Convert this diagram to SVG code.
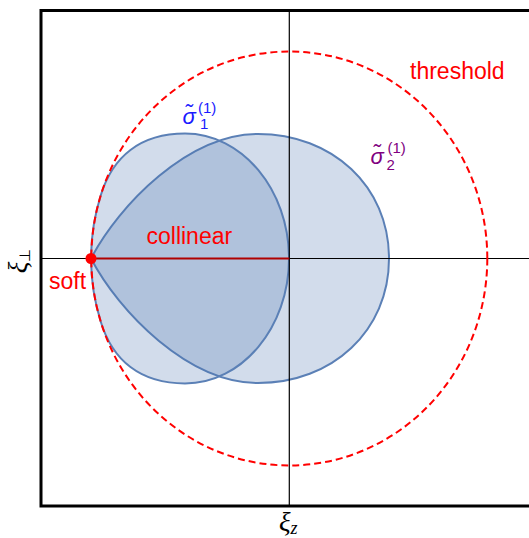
<svg xmlns="http://www.w3.org/2000/svg" width="529" height="538" viewBox="0 0 529 538">
<style>
.region{fill:#4a73b0;fill-opacity:0.25;stroke:#5b80b6;stroke-width:2}
.axis{stroke:#000;stroke-width:1.2;fill:none}
.lbl{font-family:"Liberation Sans",Arial,sans-serif;font-size:23px;fill:#ff0000}
.sym{font-family:"Liberation Sans",Arial,sans-serif;font-style:italic;font-size:22px}
.idx{font-family:"Liberation Sans",Arial,sans-serif;font-size:15px}
.ax{font-family:"Liberation Serif","Times New Roman",serif;font-style:italic;font-size:27px;fill:#000}
</style>
<rect x="0" y="0" width="529" height="538" fill="#fff"/>
<rect id="frame" x="41" y="10.5" width="500" height="495.5" fill="none" stroke="#000" stroke-width="3"/>
<g id="sigma2">
<path class="region" d="M91,258.5 C118.8,205.3 188,134 258,134 C332,134 389,186 389,258.5 C389,331 332,383 258,383 C188,383 118.8,311.7 91,258.5 Z"/>
</g>
<g id="sigma1">
<path class="region" d="M91,258.5 A198,207 0 0 1 100.85,195 C112.6,156.8 140,133.5 185,133.5 C242,133.5 289,189.5 289,258.5 C289,327.5 242,383.5 185,383.5 C140,383.5 112.6,360.2 100.85,322 A198,207 0 0 1 91,258.5 Z"/>
</g>
<g id="axes">
<line class="axis" x1="41" y1="258.5" x2="529" y2="258.5" stroke="#333"/>
<line class="axis" x1="289.3" y1="10.5" x2="289.3" y2="506"/>
</g>
<g id="connectors">
<line id="collinear-line" x1="91" y1="258.5" x2="289.3" y2="258.5" stroke="#b00000" stroke-width="2.2"/>
</g>
<g id="threshold">
<ellipse cx="289.3" cy="258.5" rx="198" ry="207" fill="none" stroke="#ff0000" stroke-width="2" stroke-dasharray="7 4"/>
<text class="lbl" x="410" y="79">threshold</text>
</g>
<g id="soft">
<circle cx="91" cy="258.5" r="5.5" fill="#ff0000"/>
<text class="lbl" x="49" y="289">soft</text>
</g>
<g id="collinear">
<text class="lbl" x="146.5" y="244">collinear</text>
</g>
<g id="sigma1-label" fill="#1a1aff">
<text class="sym" x="182.5" y="123.5">σ̃</text>
<text class="idx" x="198" y="112.5">(1)</text>
<text class="idx" x="200" y="129">1</text>
</g>
<g id="sigma2-label" fill="#800080">
<text class="sym" x="370.5" y="163.5">σ̃</text>
<text class="idx" x="387.5" y="152.5">(1)</text>
<text class="idx" x="386.5" y="169.5">2</text>
</g>
<g id="axis-labels">
<text class="ax" x="279" y="531">ξ<tspan font-size="18" dy="3">z</tspan></text>
<text class="ax" transform="translate(27,261) rotate(-90)" text-anchor="middle">ξ<tspan font-size="15" font-style="normal" dy="3">⊥</tspan></text>
</g>
</svg>
